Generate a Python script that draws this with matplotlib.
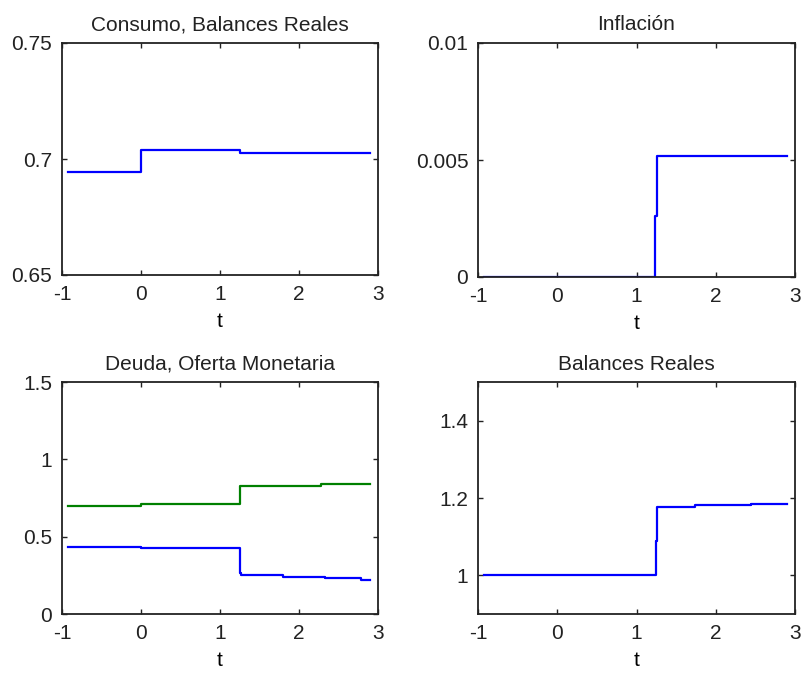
import matplotlib.pyplot as plt

plt.rcParams['font.family'] = ['Liberation Sans', 'DejaVu Sans']
plt.rcParams['font.size'] = 15

# Consumo / balances reales
t_cons = [-0.93, 0.0, 1.25, 2.9]
consumo = [0.6945, 0.704, 0.7027, 0.7027]

# Inflacion
t_inf = [-0.93, 1.23, 1.255, 2.9]
inflacion = [0.0, 0.0026, 0.00517, 0.00517]

# Deuda y oferta monetaria
t_deuda = [-0.93, 0.0, 1.25, 1.27, 1.80, 2.33, 2.79, 2.9]
deuda = [0.435, 0.425, 0.263, 0.25, 0.239, 0.231, 0.218, 0.218]
t_oferta = [-0.93, 0.0, 1.25, 2.28, 2.9]
oferta = [0.700, 0.713, 0.830, 0.842, 0.842]

# Balances reales
t_bal = [-0.93, 1.24, 1.26, 1.74, 2.44, 2.9]
balances = [1.0, 1.088, 1.178, 1.181, 1.185, 1.185]

W, H = 801, 673
fig = plt.figure(figsize=(W / 100, H / 100), dpi=100)

def make_ax(left, top, right, bottom):
    return fig.add_axes([left / W, 1 - bottom / H, (right - left) / W, (bottom - top) / H])

ax1 = make_ax(62, 43, 378, 275)
ax2 = make_ax(478, 43, 795, 277)
ax3 = make_ax(62, 382, 378, 614)
ax4 = make_ax(478, 382, 795, 614)

blue = (0, 0, 1)
green = (0, 0.5, 0)
lw = 1.6

ax1.step(t_cons, consumo, where='post', color=blue, lw=lw)
ax1.set_ylim(0.65, 0.75)
ax1.set_yticks([0.65, 0.7, 0.75])
ax1.set_yticklabels(['0.65', '0.7', '0.75'])
ax1.set_title('Consumo, Balances Reales')

ax2.step(t_inf, inflacion, where='post', color=blue, lw=lw)
ax2.set_ylim(0, 0.01)
ax2.set_yticks([0, 0.005, 0.01])
ax2.set_yticklabels(['0', '0.005', '0.01'])
ax2.set_title('Inflación')

ax3.step(t_oferta, oferta, where='post', color=green, lw=lw)
ax3.step(t_deuda, deuda, where='post', color=blue, lw=lw)
ax3.set_ylim(0, 1.5)
ax3.set_yticks([0, 0.5, 1, 1.5])
ax3.set_yticklabels(['0', '0.5', '1', '1.5'])
ax3.set_title('Deuda, Oferta Monetaria')

ax4.step(t_bal, balances, where='post', color=blue, lw=lw)
ax4.set_ylim(0.9, 1.5)
ax4.set_yticks([1, 1.2, 1.4])
ax4.set_yticklabels(['1', '1.2', '1.4'])
ax4.set_title('Balances Reales')

for ax in (ax1, ax2, ax3, ax4):
    ax.set_xlim(-1, 3)
    ax.set_xticks([-1, 0, 1, 2, 3])
    ax.set_xticklabels(['-1', '0', '1', '2', '3'])
    ax.set_xlabel('t', labelpad=6)
    ax.tick_params(direction='in', length=3.5, width=1, top=True, right=True,
                   labelsize=15, pad=7, colors='#222222')
    for s in ax.spines.values():
        s.set_linewidth(1.3)
        s.set_color('#222222')
    ax.set_title(ax.get_title(), fontsize=15, pad=9, color='#222222')

fig.savefig('out.png', dpi=100)
